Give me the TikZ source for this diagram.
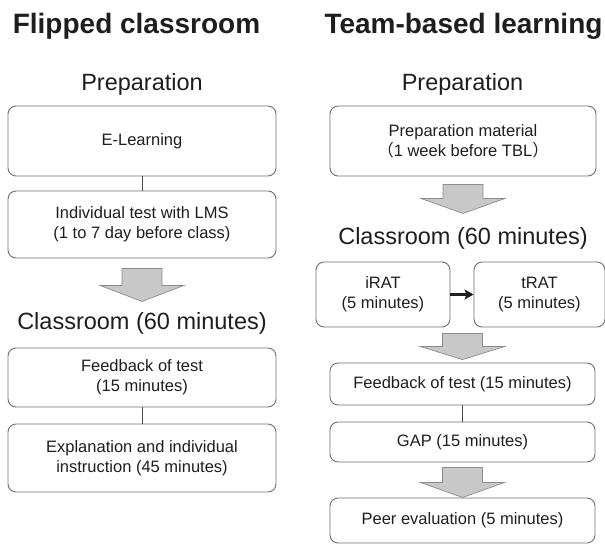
\documentclass[tikz,border=0pt]{standalone}
\usepackage{fontspec}
\setmainfont{Liberation Sans}
\newfontfamily\cjk{Noto Sans CJK JP}
\usepackage{tikz}
\tikzset{>=latex}
\usetikzlibrary{calc}
\usetikzlibrary{arrows.meta}
\definecolor{boxgray}{HTML}{6E6E6E}
\definecolor{linegray}{HTML}{4D4D4D}
\definecolor{arrowfill}{HTML}{C8C8C8}
\definecolor{arrowline}{HTML}{8C8C8C}
\definecolor{textgray}{HTML}{1E1E1E}
\tikzset{
  stage/.style={draw=boxgray, line width=0.9pt, rounded corners=8pt, align=center,
    inner sep=0pt, text=textgray, font=\fontsize{16.5}{20}\selectfont},
  title/.style={anchor=base, text=textgray, font=\bfseries\fontsize{28}{34}\selectfont},
  phase/.style={anchor=base, text=textgray, font=\fontsize{23.5}{28}\selectfont},
  fatarrow/.style={fill=arrowfill, draw=arrowline, line width=0.7pt, line join=miter},
}

\begin{document}
\begin{tikzpicture}[x=1pt,y=-1pt]
		\useasboundingbox (0,0) rectangle (605,544);

		% left column: flipped classroom
		\node[title] (fc) at (136.5,33) {Flipped classroom};
		\node[phase] (fcprep) at (142,90) {Preparation};
		\node[stage, minimum width=268pt, minimum height=70pt] (elearn) at (142,141) {E-Learning};
		\node[stage, minimum width=268pt, minimum height=67pt] (lms) at (142,224.5) {Individual test with LMS\\(1 to 7 day before class)};
		\node[phase] (fcclass) at (142,329) {Classroom (60 minutes)};
		\node[stage, minimum width=268pt, minimum height=59pt] (fcfeed) at (142,377.5) {Feedback of test\\(15 minutes)};
		\node[stage, minimum width=268pt, minimum height=68pt] (explain) at (142,458) {Explanation and individual\\instruction (45 minutes)};

		\draw[linegray,line width=0.9pt] (elearn) -- (lms);
		\draw[linegray,line width=0.9pt] (fcfeed) -- (explain);
		\draw[fatarrow] ($(lms.south)+(-20,10)$) -- +(40,0) -- +(40,17) -- +(62,17) -- +(20,33) -- +(-22,17) -- +(0,17) -- cycle;

		% right column: team-based learning
		\node[title] (tbl) at (463.5,33) {Team-based learning};
		\node[phase] (tblprep) at (462.5,90) {Preparation};
		\node[stage, minimum width=266pt, minimum height=70pt] (prepmat) at (463,141) {Preparation material\\{\cjk （}1 week before TBL{\cjk ）}};
		\node[phase] (tblclass) at (463,244) {Classroom (60 minutes)};
		\node[stage, minimum width=134pt, minimum height=65pt] (irat) at (383,294.5) {iRAT\\(5 minutes)};
		\node[stage, minimum width=131pt, minimum height=65pt] (trat) at (539.5,294.5) {tRAT\\(5 minutes)};
		\node[stage, minimum width=265pt, minimum height=42pt] (tblfeed) at (462.5,384) {Feedback of test (15 minutes)};
		\node[stage, minimum width=265pt, minimum height=40pt] (gap) at (462.5,442) {GAP (15 minutes)};
		\node[stage, minimum width=265pt, minimum height=45pt] (peer) at (462.5,520.5) {Peer evaluation (5 minutes)};

		\draw[-{Stealth[length=9pt,width=10pt,inset=2pt]},line width=2.2pt,draw=textgray,fill=textgray] (irat.east) -- (trat.west);
		\draw[linegray,line width=0.9pt] (tblfeed) -- (gap);
		\draw[fatarrow] ($(prepmat.south)+(-20,8)$) -- +(40,0) -- +(40,14) -- +(62,14) -- +(20,29) -- +(-22,14) -- +(0,14) -- cycle;
		\draw[fatarrow] ($(tblfeed.north)+(-20,-29)$) -- +(40,0) -- +(40,13) -- +(62,13) -- +(20,26) -- +(-22,13) -- +(0,13) -- cycle;
		\draw[fatarrow] ($(gap.south)+(-20,5)$) -- +(40,0) -- +(40,15) -- +(62,15) -- +(20,30) -- +(-22,15) -- +(0,15) -- cycle;
	\end{tikzpicture}
\end{document}
